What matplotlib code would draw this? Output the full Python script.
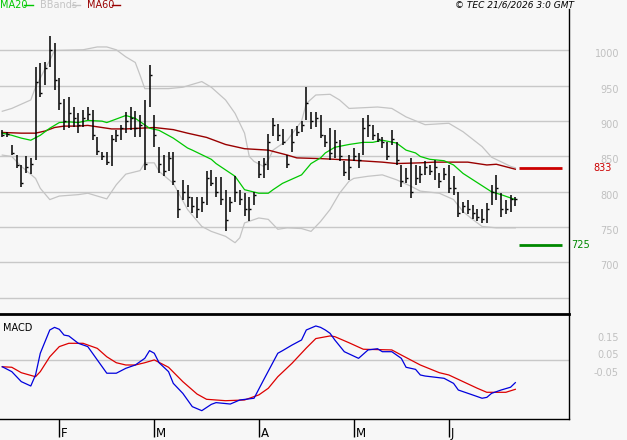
import matplotlib
matplotlib.use("Agg")
import matplotlib.pyplot as plt
from matplotlib.lines import Line2D
from matplotlib.transforms import ScaledTranslation

W, H = 627, 440
BG = "#f7f7f7"
GRID = "#c8c8c8"

# daily bars, index 0 = mid January, last = 19 June
highs = [887, 885, 866, 852, 838, 850, 848, 976, 982, 984,
         1021, 1010, 961, 932, 934, 920, 911, 916, 920, 916,
         878, 857, 857, 880, 887, 894, 913, 920, 914, 908,
         930, 979, 908, 864, 852, 856, 856, 803, 817, 810,
         793, 793, 793, 829, 831, 821, 821, 803, 793, 822,
         803, 799, 793, 800, 843, 848, 882, 904, 896, 889,
         852, 889, 893, 900, 949, 913, 913, 908, 880, 890,
         887, 873, 843, 852, 862, 855, 905, 908, 894, 883,
         878, 871, 887, 871, 838, 834, 848, 838, 837, 843,
         838, 845, 826, 834, 838, 822, 800, 786, 789, 782,
         775, 775, 784, 810, 824, 798, 789, 796, 793]
lows = [878, 878, 852, 834, 807, 826, 825, 845, 934, 951,
        976, 944, 916, 887, 890, 892, 883, 892, 901, 873,
        852, 845, 838, 836, 871, 873, 883, 887, 878, 878,
        831, 920, 864, 827, 822, 829, 810, 763, 789, 779,
        770, 763, 772, 782, 808, 793, 782, 744, 772, 785,
        782, 766, 758, 782, 819, 819, 831, 879, 872, 866,
        834, 856, 879, 885, 901, 889, 892, 876, 863, 845,
        848, 843, 822, 817, 843, 834, 852, 878, 873, 871,
        862, 845, 866, 838, 807, 812, 791, 810, 813, 824,
        824, 817, 805, 817, 798, 796, 765, 770, 768, 761,
        758, 756, 756, 782, 789, 765, 768, 772, 780]
closes = [880, 882, 855, 838, 812, 835, 840, 955, 940, 975,
          1000, 958, 925, 900, 912, 905, 895, 905, 910, 880,
          858, 850, 842, 875, 880, 890, 900, 905, 890, 895,
          840, 965, 880, 840, 830, 848, 815, 775, 800, 792,
          780, 775, 785, 820, 812, 800, 790, 760, 785, 800,
          790, 775, 775, 795, 825, 840, 870, 895, 880, 870,
          840, 870, 885, 895, 925, 900, 905, 880, 870, 855,
          870, 850, 828, 835, 850, 845, 890, 895, 880, 875,
          870, 850, 875, 845, 815, 820, 800, 820, 825, 835,
          830, 835, 815, 825, 805, 805, 770, 780, 775, 770,
          765, 762, 775, 800, 805, 775, 775, 790, 790]

ma20_i = [0, 2, 4, 6, 8, 10, 12, 14, 16, 18, 21, 22, 26, 28, 31, 33, 36, 39, 40,
          44, 45, 49, 51, 54, 56, 57, 59, 63, 65, 67, 68, 70, 73, 76, 78, 80, 83,
          85, 87, 88, 90, 93, 95, 97, 100, 103, 105, 108]
ma20_v = [883, 880, 876, 873, 880, 890, 898, 899, 898, 901, 900, 898, 908, 904, 890,
          887, 876, 862, 859, 846, 840, 822, 803, 798, 798, 803, 812, 824, 840, 848,
          855, 863, 867, 870, 870, 873, 869, 859, 855, 850, 846, 844, 838, 826, 813,
          800, 796, 789]

ma60_i = [0, 4, 7, 9, 11, 13, 16, 18, 21, 23, 26, 32, 36, 39, 43, 45, 47, 51, 56,
          60, 62, 67, 73, 80, 83, 88, 91, 98, 102, 104, 108]
ma60_v = [884, 883, 883, 886, 891, 893, 893, 894, 891, 889, 889, 891, 888, 883, 877,
          872, 867, 861, 859, 852, 848, 847, 845, 842, 840, 841, 842, 842, 838, 839, 832]

bbu_i = [0, 2, 4, 6, 7, 9, 10, 11, 17, 20, 22, 24, 26, 28, 29, 30, 33, 35, 38, 42,
         44, 47, 49, 51, 52, 53, 55, 56, 57, 60, 63, 64, 66, 69, 71, 73, 79, 82, 85,
         89, 94, 97, 101, 103, 107, 108]
bbu_v = [914, 918, 924, 930, 948, 974, 986, 1000, 1001, 1005, 1005, 1001, 991, 983,
         965, 946, 946, 946, 948, 956, 948, 930, 911, 883, 850, 843, 836, 845, 859,
         873, 900, 925, 937, 938, 930, 918, 920, 918, 906, 895, 897, 885, 864, 849,
         836, 834]

bbl_i = [0, 2, 4, 7, 8, 10, 12, 16, 18, 22, 24, 26, 29, 30, 32, 33, 36, 39, 42, 44,
         47, 49, 50, 51, 54, 56, 58, 60, 63, 65, 67, 69, 71, 73, 74, 77, 80, 83, 86,
         88, 92, 95, 97, 99, 101, 104, 108]
bbl_v = [852, 850, 836, 819, 805, 789, 794, 796, 798, 790, 810, 825, 830, 841, 841,
         829, 812, 775, 751, 744, 737, 728, 735, 756, 763, 761, 747, 749, 748, 744,
         758, 775, 798, 815, 819, 822, 824, 817, 808, 801, 798, 789, 772, 761, 751,
         749, 749]

macd_i = [0, 2, 4, 6, 7, 8, 10, 11, 12, 13, 14, 16, 18, 20, 22, 24, 26, 28, 30, 31,
          32, 33, 35, 36, 38, 40, 42, 44, 45, 48, 50, 53, 55, 58, 59, 61, 63, 64, 66,
          67, 68, 69, 70, 72, 75, 77, 79, 80, 82, 84, 85, 87, 88, 89, 93, 95, 96, 99,
          101, 102, 103, 105, 107, 108]
macd_v = [-0.016, -0.044, -0.101, -0.126, -0.063, 0.061, 0.194, 0.209, 0.198, 0.165,
          0.160, 0.118, 0.099, 0.023, -0.053, -0.053, -0.025, -0.006, 0.032, 0.076,
          0.061, 0.007, -0.044, -0.111, -0.168, -0.244, -0.267, -0.231, -0.221, -0.229,
          -0.206, -0.196, -0.092, 0.061, 0.076, 0.108, 0.137, 0.194, 0.217, 0.209,
          0.194, 0.175, 0.137, 0.070, 0.032, 0.080, 0.087, 0.070, 0.070, 0.032,
          -0.019, -0.031, -0.063, -0.069, -0.082, -0.111, -0.149, -0.177, -0.196,
          -0.191, -0.168, -0.149, -0.133, -0.107]

sig_i = [0, 2, 4, 7, 8, 10, 12, 14, 17, 20, 22, 24, 26, 28, 30, 32, 35, 38, 41, 43,
         47, 51, 54, 56, 58, 61, 64, 66, 69, 70, 73, 76, 82, 84, 88, 92, 94, 97, 100,
         102, 106, 108]
sig_v = [-0.016, -0.019, -0.050, -0.073, -0.044, 0.041, 0.099, 0.118, 0.118, 0.089,
         0.041, 0.007, -0.006, -0.006, 0.007, 0.023, -0.019, -0.101, -0.172, -0.202,
         -0.210, -0.206, -0.177, -0.139, -0.073, 0.004, 0.091, 0.145, 0.160, 0.156,
         0.121, 0.084, 0.080, 0.051, -0.006, -0.050, -0.063, -0.101, -0.139, -0.162,
         -0.162, -0.145]

month_i = [12, 32, 54, 74, 94]
month_lab = ["F", "M", "A", "M", "J"]
price_grid = [650, 700, 750, 800, 850, 900, 950, 1000]
price_lab = [700, 750, 800, 850, 900, 950, 1000]
macd_lab = [0.15, 0.05, -0.05]
ma60_last = 833
support = 725

fig = plt.figure(figsize=(W / 100, H / 100), dpi=100, facecolor=BG)

def box(x0, y0, x1, y1):
    # pixel box (top-left origin) -> figure fraction rect
    return [x0 / W, 1 - y1 / H, (x1 - x0) / W, (y1 - y0) / H]

ax = fig.add_axes(box(0, 9, 569, 314))
axm = fig.add_axes(box(0, 314, 569, 419))
xlim = (-0.48, 119.3)

for a in (ax, axm):
    a.set_facecolor(BG)
    a.set_xlim(*xlim)
    for s in a.spines.values():
        s.set_visible(False)
    a.spines["right"].set_visible(True)
    a.spines["right"].set_linewidth(1.0)
    a.set_yticks([])

ax.set_ylim(627.1, 1058.7)
ax.set_xticks([])
for g in price_grid:
    ax.axhline(g, color=GRID, lw=1.0, zorder=1)

# bollinger, moving averages
ax.plot(bbu_i, bbu_v, color="#c4c4c4", lw=0.9, zorder=2)
ax.plot(bbl_i, bbl_v, color="#c4c4c4", lw=0.9, zorder=2)
ax.plot(ma60_i, ma60_v, color="#990000", lw=1.0, zorder=3)
ax.plot(ma20_i, ma20_v, color="#00c800", lw=0.9, zorder=3)

# bars
xs = list(range(len(highs)))
ax.vlines(xs, lows, highs, color="black", lw=1.1, zorder=4)
ax.hlines(closes, [x for x in xs], [x + 0.45 for x in xs], color="black", lw=1.0, zorder=4)

# level markers on the right
ax.hlines([ma60_last], 108.8, 117.8, color="#cc0000", lw=2.0, zorder=3)
ax.hlines([support], 108.8, 117.8, color="#008800", lw=2.0, zorder=3)
ytr = ax.get_yaxis_transform()
ax.text(593 / 569, ma60_last, str(ma60_last), transform=ytr, color="#cc0000",
        fontsize=7, ha="left", va="center", clip_on=False)
ax.text(571 / 569, support, str(support), transform=ytr, color="#008800",
        fontsize=7, ha="left", va="center", clip_on=False)
shift = ScaledTranslation(0, -4 / 100, fig.dpi_scale_trans)
for p in price_lab:
    ax.text(619 / 569, p, str(p), transform=ytr + shift, color="#c0c0c0",
            fontsize=7, ha="right", va="center", clip_on=False)

# MACD panel
axm.set_ylim(-0.3146, 0.2854)
axm.spines["top"].set_visible(True)
axm.spines["top"].set_linewidth(2.0)
axm.spines["bottom"].set_visible(True)
axm.spines["bottom"].set_linewidth(1.0)
axm.axhline(0.025, color=GRID, lw=1.0, zorder=1)
axm.plot(sig_i, sig_v, color="#dd0000", lw=0.9, zorder=3)
axm.plot(macd_i, macd_v, color="#0000dd", lw=0.9, zorder=3)
axm.text(3 / 569, 0.87, "MACD", transform=axm.transAxes, fontsize=7,
         ha="left", va="center")
ytm = axm.get_yaxis_transform()
for v in macd_lab:
    axm.text(619 / 569, v, f"{v:.2f}", transform=ytm, color="#c0c0c0",
             fontsize=7, ha="right", va="center", clip_on=False)

axm.set_xticks(month_i)
axm.set_xticklabels([])
axm.tick_params(axis="x", direction="out", length=18 * 0.72, width=1.0, color="black")
xtm = axm.get_xaxis_transform() + ScaledTranslation(2 / 100, 0, fig.dpi_scale_trans)
for i, lab in zip(month_i, month_lab):
    axm.text(i, -0.17, lab, transform=xtm, fontsize=8.5, ha="left", va="baseline")

# legend and stamp on top line
fig.text(0 / W, 1 - 5 / H, "MA20", color="#00c800", fontsize=7, ha="left", va="center")
fig.text(40 / W, 1 - 5 / H, "BBands", color="#c4c4c4", fontsize=7, ha="left", va="center")
fig.text(87 / W, 1 - 5 / H, "MA60", color="#990000", fontsize=7, ha="left", va="center")
for (a, b), c in zip([(24, 33), (72, 80), (112, 120)], ["#00c800", "#c4c4c4", "#990000"]):
    fig.add_artist(Line2D([a / W, b / W], [1 - 5 / H, 1 - 5 / H], color=c, lw=1.0))
fig.text(574 / W, 1 - 5 / H, "\u00a9 TEC 21/6/2026 3:0 GMT", fontsize=6.5,
         style="italic", ha="right", va="center")

fig.savefig("out.png", dpi=100, facecolor=BG)
